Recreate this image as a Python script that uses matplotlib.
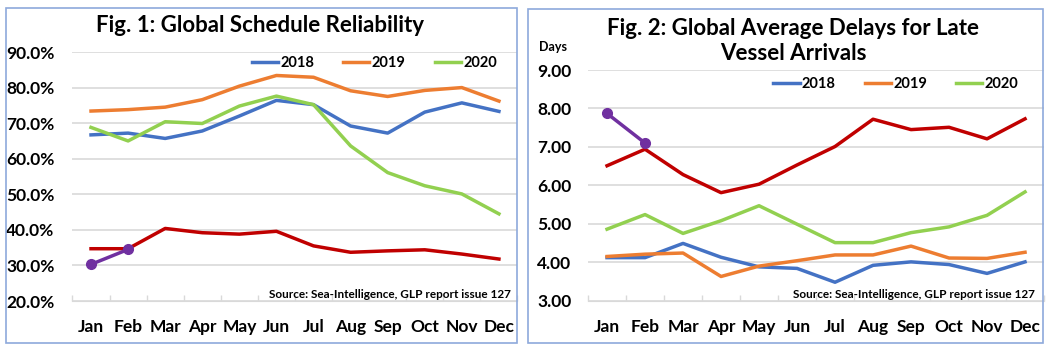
import matplotlib
matplotlib.use('Agg')
import matplotlib.pyplot as plt
from matplotlib.patches import Rectangle
from matplotlib.ticker import FuncFormatter

plt.rcParams['font.family'] = ['Lato', 'DejaVu Sans']

months = ['Jan', 'Feb', 'Mar', 'Apr', 'May', 'Jun', 'Jul', 'Aug', 'Sep', 'Oct', 'Nov', 'Dec']

# Fig. 1: schedule reliability, %
rel_2018 = [66.7, 67.2, 65.7, 67.8, 72.0, 76.4, 75.2, 69.2, 67.2, 73.1, 75.7, 73.3]
rel_2019 = [73.4, 73.8, 74.5, 76.6, 80.4, 83.4, 82.9, 79.1, 77.5, 79.2, 80.0, 76.2]
rel_2020 = [68.8, 65.0, 70.4, 69.9, 74.8, 77.6, 75.2, 63.6, 56.1, 52.4, 50.1, 44.5]
rel_red = [34.7, 34.7, 40.4, 39.2, 38.8, 39.6, 35.5, 33.7, 34.1, 34.4, 33.2, 31.8]
rel_purple = [30.3, 34.5]

# Fig. 2: average delays, days
del_2018 = [4.12, 4.12, 4.49, 4.13, 3.88, 3.84, 3.48, 3.92, 4.01, 3.94, 3.71, 4.01]
del_2019 = [4.15, 4.21, 4.24, 3.63, 3.90, 4.04, 4.19, 4.19, 4.42, 4.11, 4.10, 4.26]
del_2020 = [4.86, 5.24, 4.75, 5.08, 5.47, 4.99, 4.51, 4.51, 4.77, 4.92, 5.22, 5.83]
del_red = [6.51, 6.94, 6.28, 5.81, 6.03, 6.53, 7.01, 7.72, 7.45, 7.51, 7.21, 7.73]
del_purple = [7.87, 7.10]

c_blue = '#4472C4'
c_orange = '#ED7D31'
c_green = '#92D050'
c_red = '#C00000'
c_purple = '#7030A0'
c_grid = '#D9D9D9'
c_border = '#8EA9DB'

fig = plt.figure(figsize=(10.58, 3.49), dpi=100)

# рамки панелей
fig.patches.append(Rectangle((6 / 1058, 6 / 349), 511 / 1058, 335 / 349, transform=fig.transFigure,
                             fill=False, edgecolor=c_border, linewidth=1.2))
fig.patches.append(Rectangle((528 / 1058, 6 / 349), 515 / 1058, 334 / 349, transform=fig.transFigure,
                             fill=False, edgecolor=c_border, linewidth=1.2))

ax1 = fig.add_axes([0.0685, 0.1375, 0.4206, 0.7135])
ax2 = fig.add_axes([0.5558, 0.1384, 0.431, 0.661])

x = list(range(12))
lw = 2.5


def style_axes(ax, ylim, yticks, fmt, ypad):
    ax.set_xlim(-0.5, 11.5)
    ax.set_ylim(*ylim)
    ax.set_yticks(yticks)
    ax.yaxis.set_major_formatter(fmt)
    ax.set_xticks(x)
    ax.set_xticklabels(months)
    ax.set_xticks([i - 0.5 for i in range(13)], minor=True)
    ax.tick_params(axis='x', which='major', length=0, pad=13, labelsize=12.5)
    ax.tick_params(axis='x', which='minor', length=4, direction='in', color=c_grid, width=1)
    ax.tick_params(axis='y', length=0, pad=ypad, labelsize=12.5)
    for lab in ax.get_xticklabels() + ax.get_yticklabels():
        lab.set_fontweight('bold')
    for s in ['top', 'right', 'left']:
        ax.spines[s].set_visible(False)
    ax.spines['bottom'].set_color(c_grid)
    ax.grid(axis='y', color=c_grid, linewidth=1.2)
    ax.set_axisbelow(True)


style_axes(ax1, (20, 90), range(20, 91, 10), FuncFormatter(lambda v, p: f'{v:.1f}%'), 13)
style_axes(ax2, (3, 9), range(3, 10), FuncFormatter(lambda v, p: f'{v:.2f}'), 12)

for ax, d18, d19, d20, dr, dp in [(ax1, rel_2018, rel_2019, rel_2020, rel_red, rel_purple),
                                  (ax2, del_2018, del_2019, del_2020, del_red, del_purple)]:
    ax.plot(x, d18, color=c_blue, lw=lw, label='2018')
    ax.plot(x, d19, color=c_orange, lw=lw, label='2019')
    ax.plot(x, d20, color=c_green, lw=lw, label='2020')
    ax.plot(x, dr, color=c_red, lw=lw)
    ax.plot(x[:len(dp)], dp, color=c_purple, lw=lw, marker='o', markersize=7)

leg_kw = dict(ncol=3, frameon=False, loc='center', handlelength=1.8, handletextpad=0.15,
              columnspacing=2.0, prop={'weight': 'bold', 'size': 10.5})
ax1.legend(bbox_to_anchor=(0.678, 0.956), **leg_kw)
ax2.legend(bbox_to_anchor=(0.675, 0.939), **leg_kw)

src = 'Source: Sea-Intelligence, GLP report issue 127'
ax1.text(0.985, 0.028, src, transform=ax1.transAxes, ha='right', va='center', fontsize=8.5, fontweight='bold')
ax2.text(0.980, 0.029, src, transform=ax2.transAxes, ha='right', va='center', fontsize=8.5, fontweight='bold')

fig.text(0.2457, 0.928, 'Fig. 1: Global Schedule Reliability', ha='center', va='center',
         fontsize=16, fontweight='bold')
fig.text(0.7495, 0.8825, 'Fig. 2: Global Average Delays for Late\nVessel Arrivals', ha='center', va='center',
         fontsize=16, fontweight='bold', linespacing=1.26)
fig.text(0.5227, 0.865, 'Days', ha='center', va='center', fontsize=9, fontweight='bold')

fig.savefig('out.png', dpi=100)
